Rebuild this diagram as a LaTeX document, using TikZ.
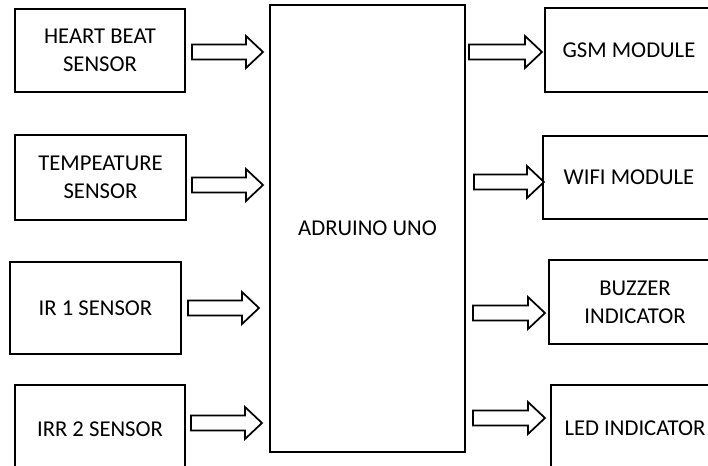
\documentclass[tikz,border=0pt]{standalone}
\usepackage{fontspec}
\setmainfont{Carlito}
\usetikzlibrary{calc}
\tikzset{
  blockbox/.style={draw=black, line width=1.5pt, rectangle, anchor=north west, align=center,
    inner sep=0pt, font=\fontsize{17pt}{21pt}\selectfont},
  arrowline/.style={draw=black, line width=1.3pt, line join=miter, fill=white}
}
\newcommand\barrow[2]{%
  \draw[arrowline] ($(#1)+(0,-7.5)$) -- ($(#2)+(-17,-7.5)$) -- ($(#2)+(-17,-16)$) -- (#2)
    -- ($(#2)+(-17,16)$) -- ($(#2)+(-17,7.5)$) -- ($(#1)+(0,7.5)$) -- cycle;}
\begin{document}
\begin{tikzpicture}[x=0.75pt, y=-0.75pt]
\clip (0,0) rectangle (708,465);
\fill[white] (0,0) rectangle (708,465);
% left sensor boxes
\node[blockbox, minimum width=170*0.75pt, minimum height=83*0.75pt] (hb) at (14,8) {HEART BEAT\\SENSOR};
\node[blockbox, minimum width=171*0.75pt, minimum height=85*0.75pt] (tp) at (14,134) {TEMPEATURE\\SENSOR};
\node[blockbox, minimum width=171*0.75pt, minimum height=92*0.75pt] (ir1) at (9,261) {IR 1 SENSOR};
\node[blockbox, minimum width=170*0.75pt, minimum height=88*0.75pt] (ir2) at (14,384) {IRR 2 SENSOR};
% controller
\node[blockbox, minimum width=195*0.75pt, minimum height=447*0.75pt] (uno) at (269,4) {ADRUINO UNO};
% right output boxes
\node[blockbox, minimum width=168*0.75pt, minimum height=84*0.75pt] (gsm) at (544,7) {GSM MODULE};
\node[blockbox, minimum width=172*0.75pt, minimum height=83*0.75pt] (wifi) at (542,135) {WIFI MODULE};
\node[blockbox, minimum width=172*0.75pt, minimum height=84*0.75pt] (buz) at (548,259) {BUZZER\\INDICATOR};
\node[blockbox, minimum width=168*0.75pt, minimum height=86*0.75pt] (led) at (550,384) {LED INDICATOR};
% arrow end points
\coordinate (l1s) at (192,52);  \coordinate (l1e) at (263,52);
\coordinate (l2s) at (192,185); \coordinate (l2e) at (263,185);
\coordinate (l3s) at (188,308); \coordinate (l3e) at (259,308);
\coordinate (l4s) at (191,423); \coordinate (l4e) at (262,423);
\coordinate (r1s) at (469,52);  \coordinate (r1e) at (542,52);
\coordinate (r2s) at (474,182); \coordinate (r2e) at (544,182);
\coordinate (r3s) at (473,313); \coordinate (r3e) at (545,313);
\coordinate (r4s) at (473,418); \coordinate (r4e) at (545,418);
\barrow{l1s}{l1e}
\barrow{l2s}{l2e}
\barrow{l3s}{l3e}
\barrow{l4s}{l4e}
\barrow{r1s}{r1e}
\barrow{r2s}{r2e}
\barrow{r3s}{r3e}
\barrow{r4s}{r4e}
\end{tikzpicture}
\end{document}
